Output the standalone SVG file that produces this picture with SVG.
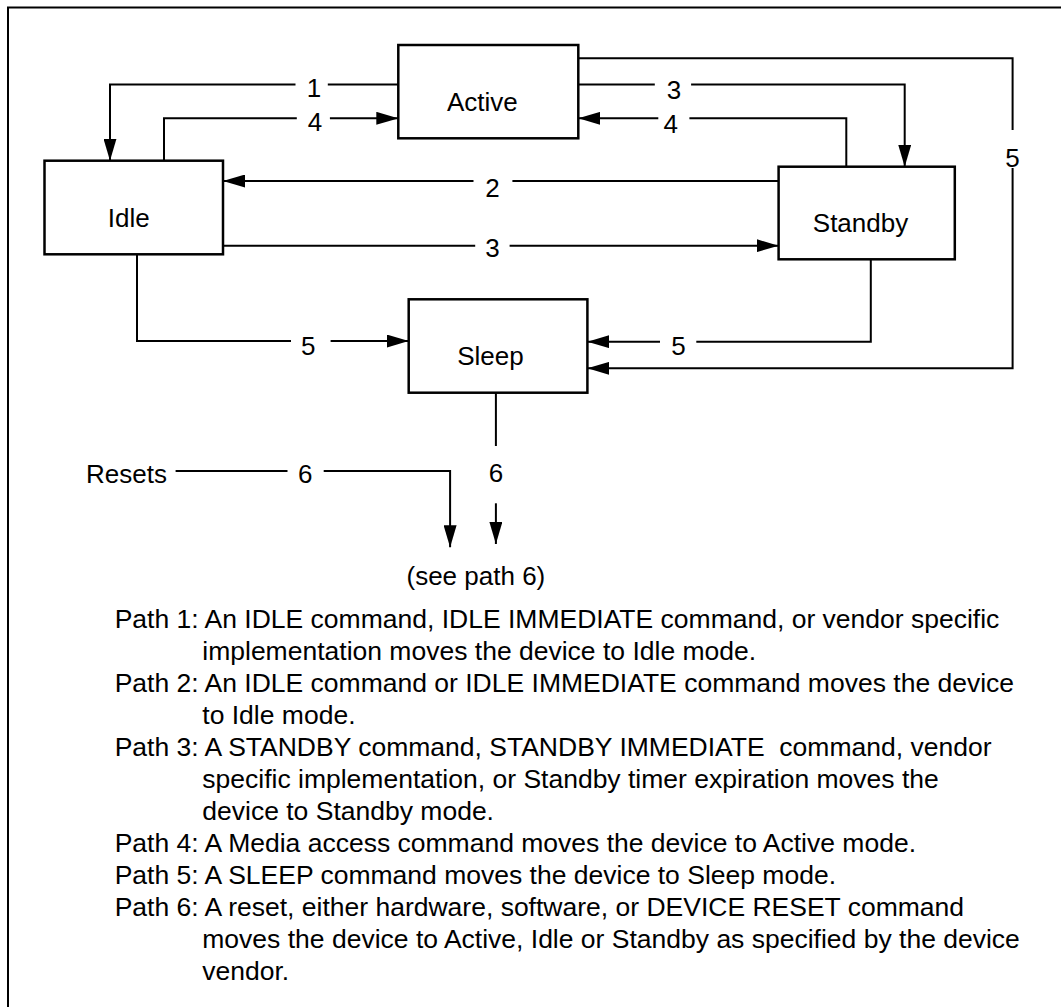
<svg xmlns="http://www.w3.org/2000/svg" width="1062" height="1008" viewBox="0 0 1062 1008">
<defs>
<style>
.box{fill:#fff;stroke:#000;stroke-width:2.5}
.ln{fill:none;stroke:#000;stroke-width:2}
.t{font-family:"Liberation Sans",Arial,sans-serif;font-size:26px;fill:#000}
.c{text-anchor:middle}
.lg{font-family:"Liberation Sans",Arial,sans-serif;font-size:26.5px;fill:#000;white-space:pre}
</style>
<marker id="ah" markerUnits="userSpaceOnUse" markerWidth="22" markerHeight="13" refX="22" refY="6.5" orient="auto">
<path d="M0,0 L22,6.5 L0,13 Z" fill="#000"/>
</marker>
</defs>
<rect width="1062" height="1008" fill="#fff"/>
<path class="ln" d="M8,1007 V7.5 H1061"/>
<g id="active"><rect class="box" x="398.3" y="45" width="180" height="93.3"/><text class="t c" x="482.3" y="111">Active</text></g>
<g id="idle"><rect class="box" x="44.5" y="160.7" width="178.5" height="93.6"/><text class="t c" x="128.8" y="226.7">Idle</text></g>
<g id="standby"><rect class="box" x="778.6" y="166.7" width="176.2" height="92.6"/><text class="t c" x="860.5" y="232.3">Standby</text></g>
<g id="sleep"><rect class="box" x="408.7" y="299.3" width="178.7" height="93.4"/><text class="t c" x="490.4" y="365">Sleep</text></g>
<g id="resets"><text class="t" x="86" y="482.7">Resets</text></g>
<g id="seepath6"><text class="t" x="406.5" y="585">(see path 6)</text></g>
<g id="connectors">
<path class="ln" d="M398.3,84.5 H327.8"/>
<path class="ln" d="M295.5,84.5 H110 V160.7" marker-end="url(#ah)"/>
<text class="t c" x="314" y="97">1</text>
<path class="ln" d="M164,160.7 V118.3 H296.8"/>
<path class="ln" d="M329.9,118.3 H398.3" marker-end="url(#ah)"/>
<text class="t c" x="315" y="131">4</text>
<path class="ln" d="M778.6,181 H512.4"/>
<path class="ln" d="M473.5,181 H223" marker-end="url(#ah)"/>
<text class="t c" x="492.4" y="197">2</text>
<path class="ln" d="M223,245.7 H475.2"/>
<path class="ln" d="M509.6,245.7 H778.6" marker-end="url(#ah)"/>
<text class="t c" x="492.4" y="256.7">3</text>
<path class="ln" d="M578.3,84.5 H654.8"/>
<path class="ln" d="M691.1,84.5 H904.7 V166.7" marker-end="url(#ah)"/>
<text class="t c" x="674" y="99">3</text>
<path class="ln" d="M846.3,166.7 V118.3 H689.4"/>
<path class="ln" d="M658.3,118.3 H578.3" marker-end="url(#ah)"/>
<text class="t c" x="670.7" y="133.3">4</text>
<path class="ln" d="M578.3,58.3 H1012.6 V130"/>
<path class="ln" d="M1012.6,168 V368.3 H587.4" marker-end="url(#ah)"/>
<text class="t c" x="1012.5" y="166.7">5</text>
<path class="ln" d="M870.8,259.3 V341.7 H696.3"/>
<path class="ln" d="M660,341.7 H587.4" marker-end="url(#ah)"/>
<text class="t c" x="678.6" y="355">5</text>
<path class="ln" d="M137,254.3 V341 H291"/>
<path class="ln" d="M330.6,341 H408.7" marker-end="url(#ah)"/>
<text class="t c" x="308.2" y="355">5</text>
<path class="ln" d="M495.9,392.7 V446"/>
<path class="ln" d="M495.9,503.3 V544" marker-end="url(#ah)"/>
<text class="t c" x="496" y="481.7">6</text>
<path class="ln" d="M175.6,471 H287.5"/>
<path class="ln" d="M323.7,471 H450.1 V547.3" marker-end="url(#ah)"/>
<text class="t c" x="305.3" y="482.7">6</text>
</g>
<g id="legend">
<text class="lg" x="114.7" y="627.7">Path 1: An IDLE command, IDLE IMMEDIATE command, or vendor specific</text>
<text class="lg" x="202.3" y="659.7">implementation moves the device to Idle mode.</text>
<text class="lg" x="114.7" y="691.7">Path 2: An IDLE command or IDLE IMMEDIATE command moves the device</text>
<text class="lg" x="202.3" y="723.7">to Idle mode.</text>
<text class="lg" x="114.7" y="755.7">Path 3: A STANDBY command, STANDBY IMMEDIATE  command, vendor</text>
<text class="lg" x="202.3" y="787.7">specific implementation, or Standby timer expiration moves the</text>
<text class="lg" x="202.3" y="819.7">device to Standby mode.</text>
<text class="lg" x="114.7" y="851.7">Path 4: A Media access command moves the device to Active mode.</text>
<text class="lg" x="114.7" y="883.7">Path 5: A SLEEP command moves the device to Sleep mode.</text>
<text class="lg" x="114.7" y="915.7">Path 6: A reset, either hardware, software, or DEVICE RESET command</text>
<text class="lg" x="202.3" y="947.7">moves the device to Active, Idle or Standby as specified by the device</text>
<text class="lg" x="202.3" y="979.7">vendor.</text>
</g>
</svg>
